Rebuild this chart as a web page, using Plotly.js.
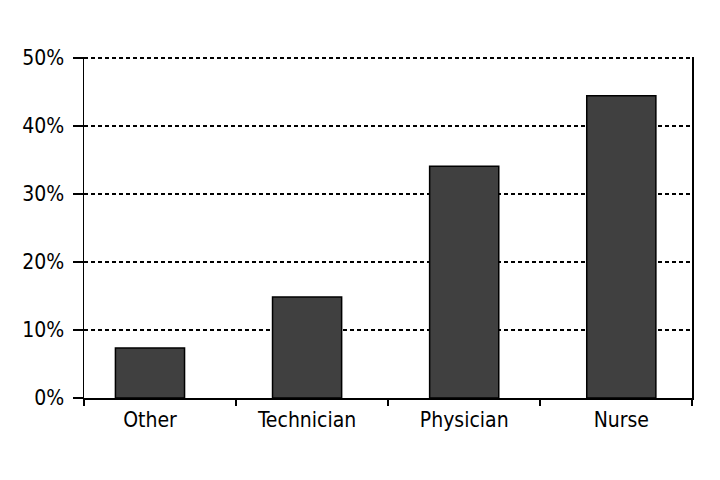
<!DOCTYPE html>
<html>
<head>
<meta charset="utf-8">
<script src="https://cdn.plot.ly/plotly-3.0.1.min.js"></script>
<style>html,body{margin:0;padding:0;background:#fff;}</style>
</head>
<body>
<div id="chart" style="width:720px;height:480px;"></div>
<script>
const categories = ["Other", "Technician", "Physician", "Nurse"];
const shares = [7.35, 14.85, 34.1, 44.45];
const yTickVals = [0, 10, 20, 30, 40, 50];
const yTickText = ["0%", "10%", "20%", "30%", "40%", "50%"];
const boundaryTicks = [0, 1, 2, 3, 4];

const fontFam = "'Liberation Sans Narrow', 'DejaVu Sans Condensed', 'Roboto Condensed', sans-serif";

Plotly.newPlot("chart", [{
  type: "bar",
  x: categories,
  y: shares,
  width: 0.44,
  marker: {color: "#404040", line: {color: "#000", width: 1.5}},
  hoverinfo: "skip"
}, {
  type: "scatter", mode: "markers",
  x: [], y: [],
  xaxis: "x2", yaxis: "y",
  hoverinfo: "skip", showlegend: false
}], {
  width: 720, height: 480,
  margin: {l: 84, r: 28, t: 57, b: 82, pad: 0},
  paper_bgcolor: "#fff", plot_bgcolor: "#fff",
  font: {family: fontFam, size: 21, color: "#000"},
  showlegend: false,
  xaxis: {
    type: "category",
    range: [-0.42, 3.45],
    showline: true, linecolor: "#000", linewidth: 1.5,
    ticks: "", showgrid: false, zeroline: false,
    tickfont: {family: fontFam, size: 21, color: "#000"},
    ticklabelstandoff: 2,
    fixedrange: true
  },
  xaxis2: {
    overlaying: "x", side: "bottom", anchor: "y",
    range: [0, 4],
    tickvals: boundaryTicks,
    showticklabels: false,
    ticks: "outside", ticklen: 7, tickwidth: 1.5, tickcolor: "#000",
    showline: false, showgrid: false, zeroline: false,
    fixedrange: true
  },
  yaxis: {
    range: [0, 50.15],
    tickvals: yTickVals, ticktext: yTickText,
    showline: true, mirror: true, linecolor: "#000", linewidth: 1.5,
    ticks: "outside", ticklen: 10, tickwidth: 1.2, tickcolor: "#000",
    showgrid: true, gridcolor: "#000", gridwidth: 1.2, griddash: "4px,3px",
    zeroline: false,
    tickfont: {family: fontFam, size: 21, color: "#000"},
    ticklabelstandoff: 4,
    fixedrange: true
  }
}, {displayModeBar: false, staticPlot: true});
</script>
</body>
</html>
